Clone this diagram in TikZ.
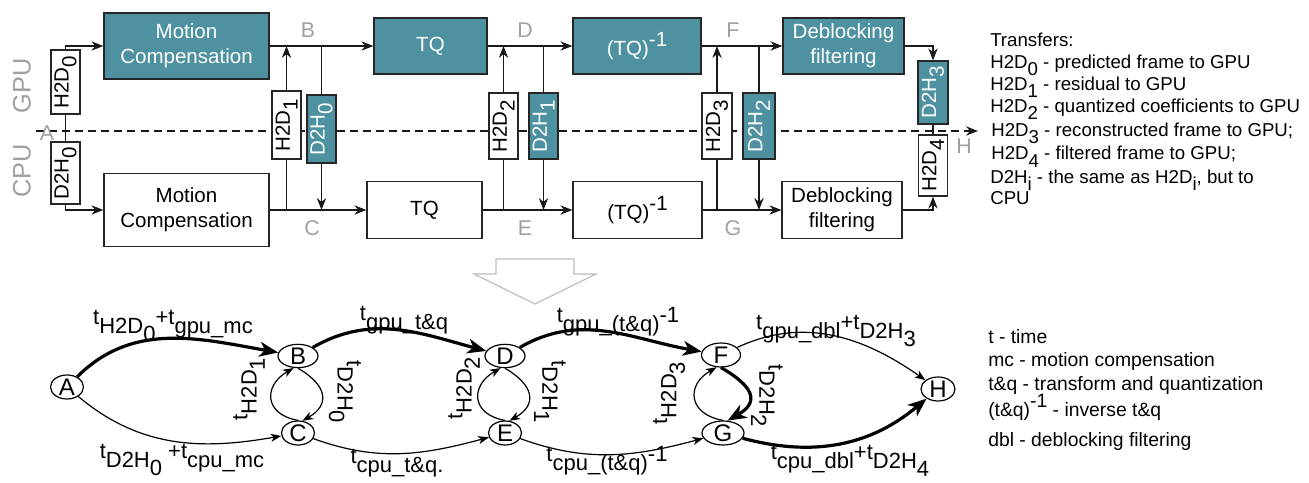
\documentclass[tikz,border=0pt]{standalone}
\usepackage{fontspec}
\setmainfont{Liberation Sans}
\usepackage{graphicx}
\usetikzlibrary{arrows.meta,shapes.geometric}
\definecolor{tealbox}{RGB}{78,145,160}
\definecolor{lblgray}{RGB}{160,160,160}
\newcommand\dn[1]{\raisebox{-0.38em}{#1}}
\newcommand\up[1]{\raisebox{0.42em}{#1}}
\begin{document}
\begin{tikzpicture}[x=0.75pt,y=0.75pt,
  sz/.style 2 args={minimum width={#1*0.75pt}, minimum height={#2*0.75pt}},
  box/.style={draw=black!85, line width=0.9pt, inner sep=0pt, align=center, font=\fontsize{15.4}{18.5}\selectfont},
  gbox/.style={box, fill=tealbox, text=white},
  cbox/.style={box, fill=white, text=black},
  ln/.style={line width=0.9pt, draw=black!90},
  arrT/.style={ln, -{Stealth[length=9pt,width=7pt,inset=3pt]}},
  glbl/.style={text=lblgray, font=\fontsize{16}{19}\selectfont, inner sep=0pt},
  dev/.style={text=lblgray, font=\fontsize{19}{22}\selectfont, inner sep=0pt, rotate=90},
  leg/.style={anchor=base west, inner sep=0pt, font=\fontsize{14}{16}\selectfont},
  gn/.style={ellipse, draw=black, line width=0.9pt, inner sep=0pt, fill=white, font=\fontsize{18}{20}\selectfont},
  thinE/.style={line width=0.9pt, -{Stealth[length=8pt,width=6pt,inset=2.2pt]}},
  thickE/.style={line width=2.4pt, -{Stealth[length=14pt,width=11pt,inset=4pt]}},
  el/.style={inner sep=0pt, font=\fontsize{16.5}{19}\selectfont}
]
\useasboundingbox (0,0) rectangle (1309,482);

% dashed separator
\coordinate (dL) at (36,351);
\coordinate (dR) at (978,351);
\draw[arrT, dash pattern=on 6pt off 3.8pt] (dL) -- (dR);

% main boxes
\node[gbox, sz={165}{66}] (gmc) at (186.5,436) {Motion\\Compensation};
\node[cbox, sz={165}{73}] (cmc) at (186.5,272) {Motion\\Compensation};
\node[gbox, sz={113}{56}] (gtq) at (430.5,436) {TQ};
\node[cbox, sz={115}{57}] (ctq) at (424.5,272) {TQ};
\node[gbox, sz={128}{56}] (gitq) at (637,436) {(TQ)\up{-1}};
\node[cbox, sz={129}{57}] (citq) at (637.5,272) {(TQ)\up{-1}};
\node[gbox, sz={121}{56}] (gdb) at (843.5,436) {Deblocking\\filtering};
\node[cbox, sz={120}{57}] (cdb) at (842,272) {Deblocking\\filtering};

% transfer boxes
\node[cbox, sz={29}{64}] (h2d0) at (65.5,400) {\rotatebox{90}{H2D\dn{0}}};
\node[cbox, sz={29}{62}] (d2h0a) at (65.5,309) {\rotatebox{90}{D2H\dn{0}}};
\node[cbox, sz={29}{68}] (h2d1) at (286.5,357) {\rotatebox{90}{H2D\dn{1}}};
\node[gbox, sz={29}{68}] (d2h0) at (321.5,353) {\rotatebox{90}{D2H\dn{0}}};
\node[cbox, sz={29}{66}] (h2d2) at (503.5,356) {\rotatebox{90}{H2D\dn{2}}};
\node[gbox, sz={29}{66}] (d2h1) at (543.5,356) {\rotatebox{90}{D2H\dn{1}}};
\node[cbox, sz={30}{66}] (h2d3) at (717,356) {\rotatebox{90}{H2D\dn{3}}};
\node[gbox, sz={32}{66}] (d2h2) at (759,356) {\rotatebox{90}{D2H\dn{2}}};
\node[gbox, sz={30}{63}] (d2h3) at (933,389.5) {\rotatebox{90}{D2H\dn{3}}};
\node[cbox, sz={29}{61}] (h2d4) at (933,316.5) {\rotatebox{90}{H2D\dn{4}}};

% connectors top
\draw[arrT] (h2d0.north) |- (gmc.west);
\draw[ln] (h2d0.south) -- (d2h0a.north);
\draw[arrT] (d2h0a.south) |- (cmc.west);

\draw[arrT] (gmc.east) -- (gtq.west);
\draw[arrT] (cmc.east) -- (ctq.west);
\draw[arrT] (h2d1.north) -- (h2d1.north |- gmc.east);
\draw[ln] (h2d1.south) -- (h2d1.south |- cmc.east);
\draw[ln] (d2h0.north |- gmc.east) -- (d2h0.north);
\draw[arrT] (d2h0.south) -- (d2h0.south |- cmc.east);

\draw[arrT] (gtq.east) -- (gitq.west);
\draw[arrT] (ctq.east) -- (citq.west);
\draw[arrT] (h2d2.north) -- (h2d2.north |- gtq.east);
\draw[ln] (h2d2.south) -- (h2d2.south |- ctq.east);
\draw[ln] (d2h1.north |- gtq.east) -- (d2h1.north);
\draw[arrT] (d2h1.south) -- (d2h1.south |- ctq.east);

\draw[arrT] (gitq.east) -- (gdb.west);
\draw[arrT] (citq.east) -- (cdb.west);
\draw[arrT] (h2d3.north) -- (h2d3.north |- gitq.east);
\draw[ln] (h2d3.south) -- (h2d3.south |- citq.east);
\draw[ln] (d2h2.north |- gitq.east) -- (d2h2.north);
\draw[arrT] (d2h2.south) -- (d2h2.south |- citq.east);

\draw[arrT] (gdb.east) -| (d2h3.north);
\draw[ln] (d2h3.south) -- (h2d4.north);
\draw[arrT] (cdb.east) -| (h2d4.south);

% gray labels
\node[glbl] (tA) at (47,349) {A};
\node[glbl] (tB) at (308,452) {B};
\node[glbl] (tC) at (312,254) {C};
\node[glbl] (tD) at (525,452) {D};
\node[glbl] (tE) at (525,254) {E};
\node[glbl] (tF) at (733,452) {F};
\node[glbl] (tG) at (733,254) {G};
\node[glbl] (tH) at (964,336) {H};
\node[dev] (gpu) at (22,396) {GPU};
\node[dev] (cpu) at (22,311) {CPU};

% legend 1
\node[leg] (l1) at (990,435.3) {Transfers:};
\node[leg] (l2) at (990,413.7) {H2D\dn{0} - predicted frame to GPU};
\node[leg] (l3) at (990,391.3) {H2D\dn{1} - residual to GPU};
\node[leg] (l4) at (990,369.3) {H2D\dn{2} - quantized coefficients to GPU};
\node[leg] (l5) at (991,345.3) {H2D\dn{3} - reconstructed frame to GPU;};
\node[leg] (l6) at (991,322) {H2D\dn{4} - filtered frame to GPU;};
\node[leg] (l7) at (990,298.7) {D2H\dn{i} - the same as H2D\dn{i}, but to};
\node[leg] (l8) at (990,277.7) {CPU};

% big arrow
\draw[draw=black!25, fill=white, line width=0.9pt] (496,223) -- (574,223) -- (574,208) -- (596,208) -- (535,178) -- (474,208) -- (496,208) -- cycle;

% graph nodes
\node[gn, sz={33}{24}] (nA) at (67,95) {A};
\node[gn, sz={40}{22}] (nB) at (298,126) {B};
\node[gn, sz={33}{24}] (nC) at (298,49) {C};
\node[gn, sz={40}{22}] (nD) at (505,126) {D};
\node[gn, sz={33}{24}] (nE) at (505,49) {E};
\node[gn, sz={39}{24}] (nF) at (721,127) {F};
\node[gn, sz={42}{24}] (nG) at (723,49) {G};
\node[gn, sz={34}{24}] (nH) at (938,93) {H};

% graph edges
\draw[thickE] (nA) to[out=45,in=170] (nB);
\draw[thinE] (nA) to[out=-40,in=190] (nC);
\draw[thickE] (nB) to[out=30,in=165] (nD);
\draw[thinE] (nC) to[out=-20,in=195] (nE);
\draw[thickE] (nD) to[out=30,in=170] (nF);
\draw[thinE] (nE) to[out=-20,in=195] (nG);
\draw[thinE] (nF) to[out=25,in=145] (nH);
\draw[thickE] (nG) to[out=-15,in=220] (nH);

\draw[thinE] (nB.south) to[out=-30,in=30,looseness=1.6] (nC.70);
\draw[thinE] (nC.north) to[out=170,in=-150,looseness=1.7] (nB.250);
\draw[thinE] (nD.south) to[out=-30,in=30,looseness=1.6] (nE.70);
\draw[thinE] (nE.north) to[out=170,in=-150,looseness=1.7] (nD.250);
\draw[thickE] (nF.south) to[out=-30,in=30,looseness=1.8] (nG.70);
\draw[thinE] (nG.north) to[out=170,in=-150,looseness=1.7] (nF.250);

% edge labels
\node[el] (eAB) at (173,156) {\up{t}H2D\dn{0}\up{+t}gpu\_mc};
\node[el] (eAC) at (182,22) {\up{t}D2H\dn{0} \up{+t}cpu\_mc};
\node[el] (eBD) at (404,162) {\up{t}gpu\_t\&q};
\node[el] (eCE) at (397,19) {\up{t}cpu\_t\&q.};
\node[el] (eDF) at (618,160) {\up{t}gpu\_(t\&q)\up{-1}};
\node[el] (eEG) at (607,21) {\up{t}cpu\_(t\&q)\up{-1}};
\node[el] (eFH) at (836,151) {\up{t}gpu\_dbl\up{+t}D2H\dn{3}};
\node[el] (eGH) at (850,21) {\up{t}cpu\_dbl\up{+t}D2H\dn{4}};
\node[el, rotate=90] (eBC1) at (249,93) {\up{t}H2D\dn{1}};
\node[el, rotate=-90] (eBC2) at (345,90) {\up{t}D2H\dn{0}};
\node[el, rotate=90] (eDE1) at (464,94) {\up{t}H2D\dn{2}};
\node[el, rotate=-90] (eDE2) at (550,90) {\up{t}D2H\dn{1}};
\node[el, rotate=90] (eFG1) at (669,89) {\up{t}H2D\dn{3}};
\node[el, rotate=-90] (eFG2) at (767,86) {\up{t}D2H\dn{2}};

% legend 2
\node[leg, font=\fontsize{14.5}{17}\selectfont] (m1) at (988,138.7) {t - time};
\node[leg, font=\fontsize{14.5}{17}\selectfont] (m2) at (988,116) {mc - motion compensation};
\node[leg, font=\fontsize{14.5}{17}\selectfont] (m3) at (988,92) {t\&q - transform and quantization};
\node[leg, font=\fontsize{14.5}{17}\selectfont] (m4) at (988,66) {(t\&q)\up{-1} - inverse t\&q};
\node[leg, font=\fontsize{14.5}{17}\selectfont] (m5) at (988,36) {dbl - deblocking filtering};
\end{tikzpicture}
\end{document}
